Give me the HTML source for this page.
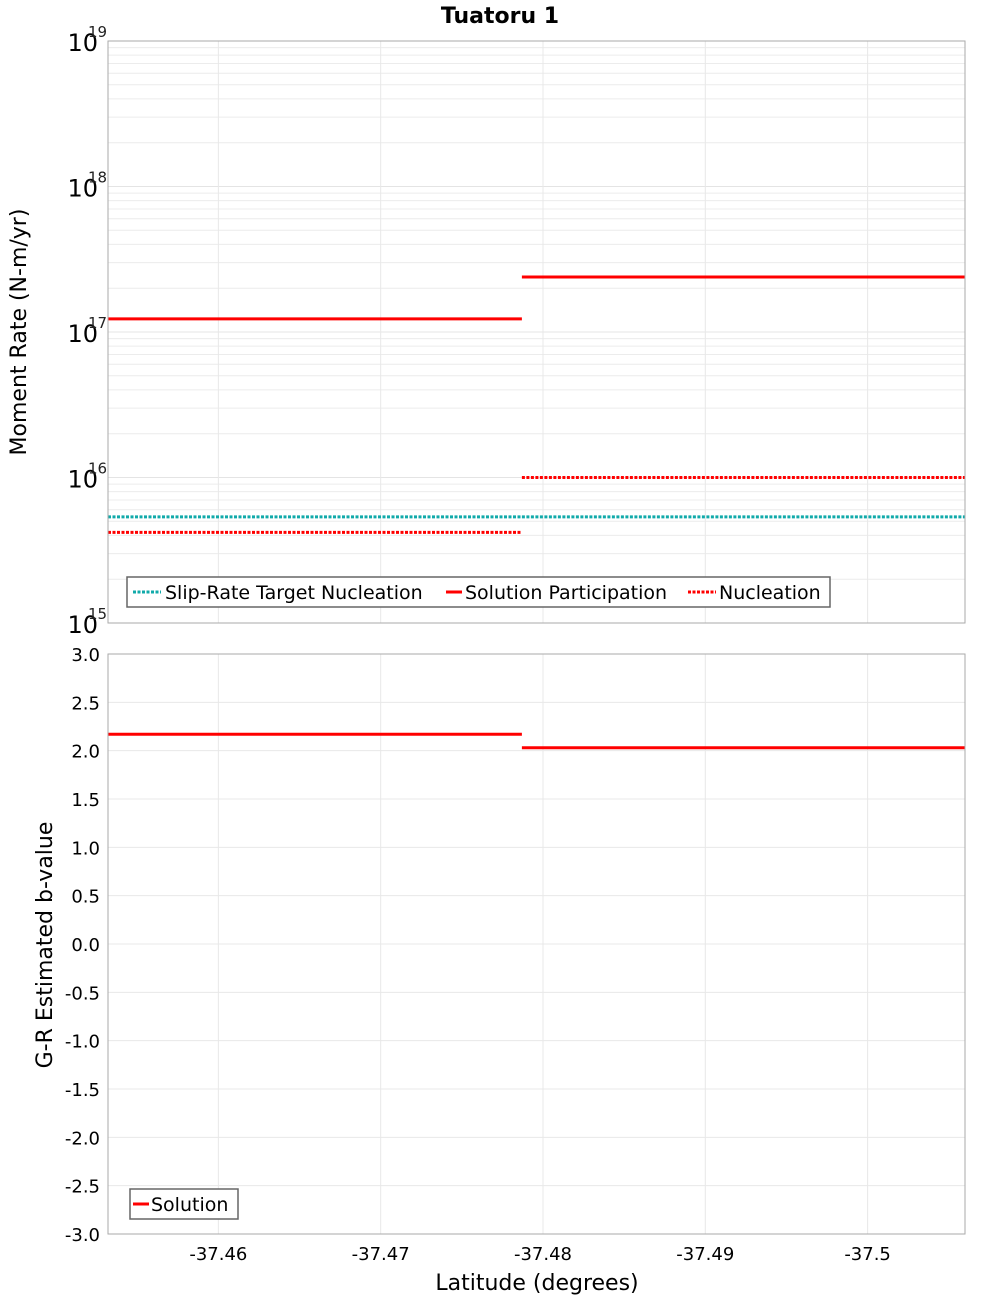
<!DOCTYPE html>
<html><head><meta charset="utf-8"><style>
html,body{margin:0;padding:0;background:#fff;}
svg text{font-family:"DejaVu Sans","Liberation Sans",sans-serif;}
</style></head><body>
<svg id="chart" width="1000" height="1300" xmlns="http://www.w3.org/2000/svg">
<text x="500" y="23" text-anchor="middle" font-size="22" font-weight="bold">Tuatoru 1</text>
<g id="topPanel"></g>
<g id="botPanel"></g>
</svg>
<script>
const xTicks = [-37.46, -37.47, -37.48, -37.49, -37.5];
const xTickLabels = ["-37.46", "-37.47", "-37.48", "-37.49", "-37.5"];
const segEdges = [-37.4532, -37.4787, -37.5060];
const solutionParticipation = [1.23e17, 2.39e17];
const nucleation = [4.2e15, 1.0e16];
const slipRateTarget = [5.36e15, 5.36e15];
const bValue = [2.17, 2.03];
const logTicks = [15, 16, 17, 18, 19];
const bTicks = [-3, -2.5, -2, -1.5, -1, -0.5, 0, 0.5, 1, 1.5, 2, 2.5, 3];

const NS = "http://www.w3.org/2000/svg";
const L = 108, R = 965;
const T1 = 41, B1 = 623, T2 = 654, B2 = 1234;
const xMin = -37.4532, xMax = -37.5060;
function X(v){ return L + (v - xMin) / (xMax - xMin) * (R - L); }
function Y1(v){ return B1 - (Math.log10(v) - 15) / 4 * (B1 - T1); }
function Y2(v){ return B2 - (v + 3) / 6 * (B2 - T2); }
function mk(parent, tag, attrs){ const e = document.createElementNS(NS, tag); for (const k in attrs) e.setAttribute(k, attrs[k]); parent.appendChild(e); return e; }

const topG = document.getElementById('topPanel');
const botG = document.getElementById('botPanel');

for (let d = 15; d < 19; d++) {
  for (let m = 2; m <= 9; m++) {
    const y = Y1(m * Math.pow(10, d));
    const g = mk(topG, 'line', {x1:L, x2:R, y1:y, y2:y, stroke:'#ececec', 'stroke-width':1});
    
    
  }
}
logTicks.forEach(p => {
  const y = Y1(Math.pow(10, p));
  const g = mk(topG, 'line', {x1:L, x2:R, y1:y, y2:y, stroke:'#e4e4e4', 'stroke-width':1});
  
  
  const t = mk(topG, 'text', {x:98, y:y+10, 'text-anchor':'end', 'font-size':24});
  
  
  t.textContent = '10';
  const s = mk(topG, 'text', {x:88, y:y-4, 'font-size':15, fill:'#222'});
  
  
  s.textContent = String(p);
});
xTicks.forEach((v, i) => {
  const x = X(v);
  const g1 = mk(topG, 'line', {x1:x, x2:x, y1:T1, y2:B1, stroke:'#e8e8e8', 'stroke-width':1});
  
  
  const g2 = mk(botG, 'line', {x1:x, x2:x, y1:T2, y2:B2, stroke:'#e8e8e8', 'stroke-width':1});
  
  
  const t = mk(botG, 'text', {x:x, y:1260, 'text-anchor':'middle', 'font-size':18});
  
  
  t.textContent = xTickLabels[i];
});
bTicks.forEach(v => {
  const y = Y2(v);
  const g = mk(botG, 'line', {x1:L, x2:R, y1:y, y2:y, stroke:'#e8e8e8', 'stroke-width':1});
  
  
  const t = mk(botG, 'text', {x:100, y:y+7, 'text-anchor':'end', 'font-size':18});
  
  
  t.textContent = v.toFixed(1);
});

function segs(parent, arr, yf, attrs, name){
  arr.forEach((v, i) => {
    const l = mk(parent, 'line', Object.assign({x1:X(segEdges[i]), x2:X(segEdges[i+1]), y1:yf(v), y2:yf(v)}, attrs));
    
    
  });
}
segs(topG, slipRateTarget, Y1, {stroke:'#11aaaa', 'stroke-width':3, 'stroke-dasharray':'3,1.5'}, 'slip-rate-target-nucleation');
segs(topG, nucleation, Y1, {stroke:'#ff0000', 'stroke-width':3, 'stroke-dasharray':'3,1.5'}, 'nucleation');
segs(topG, solutionParticipation, Y1, {stroke:'#ff0000', 'stroke-width':3}, 'solution-participation');
segs(botG, bValue, Y2, {stroke:'#ff0000', 'stroke-width':3}, 'b-value-solution');

const f1 = mk(topG, 'rect', {x:L, y:T1, width:R-L, height:B1-T1, fill:'none', stroke:'#aaa', 'stroke-width':1});


const f2 = mk(botG, 'rect', {x:L, y:T2, width:R-L, height:B2-T2, fill:'none', stroke:'#aaa', 'stroke-width':1});



const yt1 = mk(topG, 'text', {x:0, y:0, transform:'translate(26,332) rotate(-90)', 'text-anchor':'middle', 'font-size':22});


yt1.textContent = 'Moment Rate (N-m/yr)';
const yt2 = mk(botG, 'text', {x:0, y:0, transform:'translate(52,945) rotate(-90)', 'text-anchor':'middle', 'font-size':22});


yt2.textContent = 'G-R Estimated b-value';
const xt = mk(botG, 'text', {x:537, y:1290, 'text-anchor':'middle', 'font-size':22});


xt.textContent = 'Latitude (degrees)';

const lg = mk(topG, 'g', {});


const lr = mk(lg, 'rect', {x:127, y:577, width:703, height:30, fill:'#fff', stroke:'#666', 'stroke-width':1.5});


const entries = [
  {x:133, tx:165, label:'Slip-Rate Target Nucleation', color:'#11aaaa', dash:'3,1.5'},
  {x:446, tx:465, label:'Solution Participation', color:'#ff0000', dash:''},
  {x:688, tx:719, label:'Nucleation', color:'#ff0000', dash:'3,1.5'}
];
entries.forEach(e => {
  const w = e.dash ? 28 : 16;
  const ln = mk(lg, 'line', {x1:e.x, x2:e.x+w, y1:592, y2:592, stroke:e.color, 'stroke-width':3, 'stroke-dasharray':e.dash||'none'});
  
  
  const t = mk(lg, 'text', {x:e.tx, y:599, 'font-size':19});
  
  
  t.textContent = e.label;
});
const lg2 = mk(botG, 'g', {});


const lr2 = mk(lg2, 'rect', {x:130, y:1189, width:108, height:30, fill:'#fff', stroke:'#666', 'stroke-width':1.5});


const ln2 = mk(lg2, 'line', {x1:133, x2:149, y1:1204, y2:1204, stroke:'#ff0000', 'stroke-width':3});


const t2 = mk(lg2, 'text', {x:151, y:1211, 'font-size':19});


t2.textContent = 'Solution';
</script>
</body></html>
